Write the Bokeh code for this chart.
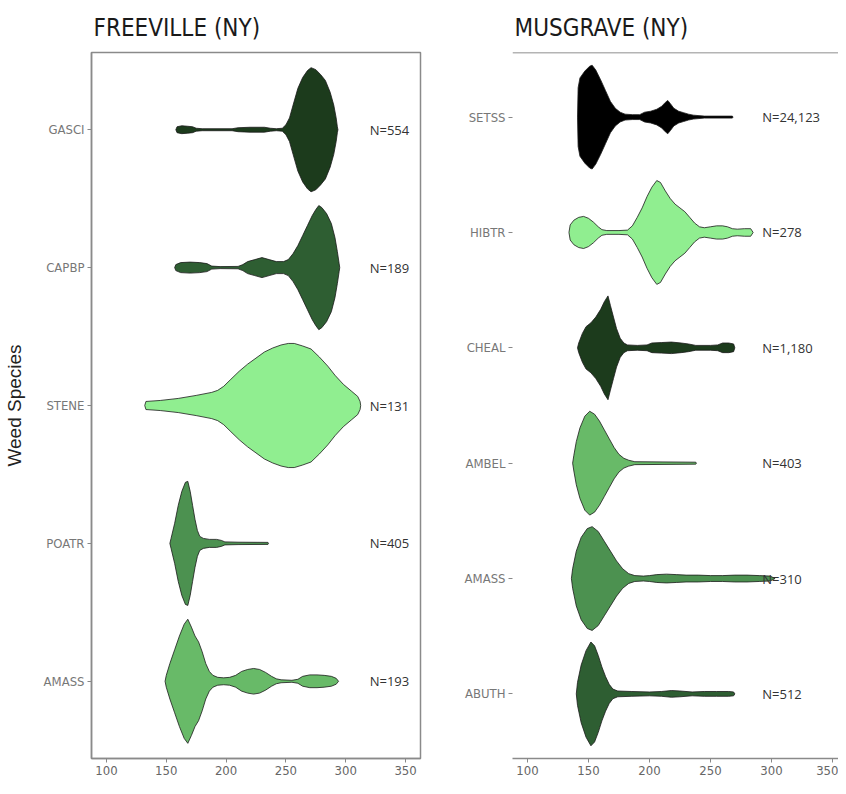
from bokeh.plotting import figure
from bokeh.layouts import row
from bokeh.models import FixedTicker, Range1d, ColumnDataSource, Span
from bokeh.core.properties import value
from bokeh.embed import file_html
from bokeh.resources import INLINE

# ---------------- data ----------------
# Freeville species (top to bottom) and sample sizes
FV_SPECIES = ["GASCI", "CAPBP", "STENE", "POATR", "AMASS"]
FV_N = ["N=554", "N=189", "N=131", "N=405", "N=193"]
FV_COLORS = ["#1c3b1c", "#2e5e32", "#90ee90", "#4c9150", "#68ba68"]

# Musgrave species (top to bottom) and sample sizes
MG_SPECIES = ["SETSS", "HIBTR", "CHEAL", "AMBEL", "AMASS", "ABUTH"]
MG_N = ["N=24,123", "N=278", "N=1,180", "N=403", "N=310", "N=512"]
MG_COLORS = ["#000000", "#90ee90", "#1c3b1c", "#68ba68", "#4c9150", "#2e5e32"]

X_TICKS = [100, 150, 200, 250, 300, 350]

# violin profiles: (day value, relative density height)
GASCI = [(158, 0), (159, 3), (163, 4), (168, 3.5), (172, 3), (175, 1.5), (180, 1), (205, 1),
         (210, 2), (220, 2.5), (232, 2.5), (237, 1.5), (242, 1), (247, 1.5), (250, 5), (253, 12),
         (256, 25), (260, 42), (264, 53), (268, 60), (271, 63), (275, 61), (279, 56), (283, 50),
         (287, 38), (290, 25), (292, 12), (293, 3), (293.5, 0)]
CAPBP = [(157, 0), (158, 3), (162, 5), (170, 5.5), (178, 5), (184, 4), (188, 1.5), (195, 1),
         (210, 1.2), (214, 3), (218, 6), (224, 8), (230, 10), (236, 8), (242, 6), (248, 6),
         (252, 8), (256, 14), (260, 22), (264, 32), (268, 42), (272, 52), (275, 58), (277.5, 62),
         (280, 60), (284, 54), (288, 44), (291, 30), (293, 16), (294.5, 4), (295, 0)]
STENE = [(132, 0), (133, 4), (145, 5), (160, 7), (175, 10), (188, 13), (193, 15), (198, 19),
         (204, 26), (211, 34), (218, 41), (225, 47), (232, 53), (239, 57), (246, 60), (252, 61.5),
         (257, 61.5), (264, 59), (271, 56), (278, 48), (285, 39), (291, 30), (298, 21), (305, 14),
         (310, 9), (312, 4), (312.5, 0)]
POATR = [(153, 0), (154, 5), (157, 20), (160, 38), (163, 52), (166, 61), (168, 62), (170, 52),
         (172, 38), (174, 24), (176, 13), (178, 7), (181, 5), (186, 4), (192, 4), (196, 3),
         (199, 1.5), (210, 1.2), (235, 1), (235.5, 0)]
AMASS_FV = [(149, 0), (150, 6), (153, 18), (157, 32), (161, 46), (165, 58), (168, 63), (171, 55),
            (174, 46), (177, 40), (180, 30), (183, 18), (186, 10), (189, 6), (193, 4), (198, 3.5),
            (203, 4), (208, 6), (213, 10), (218, 12), (223, 13), (228, 12), (233, 9), (238, 5),
            (242, 2.5), (246, 1.5), (255, 1), (260, 2), (264, 5), (270, 6.5), (276, 6.5), (282, 6),
            (288, 5), (292, 3), (294, 0)]

SETSS = [(141, 0), (141.5, 30), (143, 40), (147, 47), (151, 52), (153, 53), (156, 48), (160, 38),
         (164, 27), (168, 16), (172, 9), (176, 5), (180, 3), (186, 2.5), (192, 2.5), (196, 5),
         (201, 6), (206, 8), (210, 11), (213, 15), (215, 17), (217, 14), (220, 9), (224, 6),
         (228, 4.5), (232, 3), (236, 2), (245, 1), (268, 1), (268.5, 0)]
HIBTR = [(134, 0), (135, 8), (138, 13), (142, 16), (146, 17), (150, 15), (154, 11), (158, 6),
         (161, 3), (165, 2), (175, 2), (182, 2.5), (186, 7), (190, 16), (194, 26), (198, 38),
         (202, 48), (206, 55), (209, 53), (213, 44), (217, 36), (221, 30), (225, 26), (229, 22),
         (233, 16), (237, 10), (241, 6), (245, 5), (250, 6), (255, 7), (260, 7), (264, 6),
         (268, 4), (272, 3.5), (278, 4), (283, 4), (285, 0)]
CHEAL = [(141, 0), (142, 5), (145, 15), (148, 22), (152, 26), (156, 32), (160, 40), (163, 48),
         (166, 54), (168, 44), (170.5, 32), (173, 20), (176, 10), (179, 5), (182, 3), (190, 2.5),
         (198, 3), (202, 5), (210, 5.5), (218, 6), (226, 5), (232, 4), (238, 2.5), (250, 2.5),
         (256, 3), (260, 5), (265, 5), (269, 4), (270, 0)]
AMBEL = [(137, 0), (138, 8), (140, 22), (143, 36), (147, 48), (151, 53), (155, 50), (159, 43),
         (163, 34), (167, 25), (171, 16), (175, 9), (179, 5), (183, 3), (188, 1.5), (238, 1),
         (238.5, 0)]
AMASS_MG = [(136, 0), (137, 10), (140, 28), (144, 42), (149, 51), (153, 53), (158, 48), (163, 38),
            (168, 28), (173, 18), (178, 10), (183, 5), (188, 3), (195, 2.5), (200, 3), (206, 4),
            (214, 4.5), (222, 4), (230, 3.5), (240, 3.5), (250, 3), (260, 3), (270, 3.5),
            (280, 3.5), (290, 3), (299, 2.5), (303, 0)]
ABUTH = [(140, 0), (141, 12), (144, 30), (148, 45), (152, 54), (155, 50), (158, 40), (161, 28),
         (164, 18), (167, 10), (170, 5), (174, 3), (185, 2.5), (200, 2), (210, 2.5), (218, 3.5),
         (225, 3), (235, 2), (245, 2.5), (255, 2.5), (265, 2.5), (269, 2), (270, 0)]

FV_PROFILES = [GASCI, CAPBP, STENE, POATR, AMASS_FV]
MG_PROFILES = [SETSS, HIBTR, CHEAL, AMBEL, AMASS_MG, ABUTH]

VIOLIN_HALF = 0.45
NARROW = "'Liberation Sans Narrow', 'DejaVu Sans Condensed', 'Liberation Sans'"


def violin(p, profile, ypos, color):
    xs = [v for v, _ in profile]
    dmax = max(d for _, d in profile)
    ws = [d / dmax * VIOLIN_HALF for _, d in profile]
    px = xs + xs[::-1]
    py = [ypos + w for w in ws] + [ypos - w for w in ws[::-1]]
    src = ColumnDataSource(dict(x=px, y=py))
    p.patch("x", "y", source=src, fill_color=color, line_color="#1a1a1a", line_width=0.8)


def make_panel(title, species, profiles, colors, ns, n_x, xr, width, border_left,
               border_right, ylabel):
    n = len(species)
    p = figure(width=width, height=778, output_backend="svg", toolbar_location=None,
               x_range=Range1d(*xr), y_range=Range1d(0.44, n + 0.56),
               min_border_left=border_left, min_border_right=border_right,
               min_border_top=52, min_border_bottom=20)
    p.title.text = title
    p.title.text_font = NARROW
    p.title.text_font_size = "24px"
    p.title.text_font_style = "normal"
    p.title.text_color = "#1a1a1a"
    p.title.align = "left"
    p.title.offset = 2
    p.title.standoff = 22
    p.xgrid.visible = False
    p.ygrid.visible = False
    p.background_fill_color = "white"
    p.border_fill_color = "white"

    ypos = [n - i for i in range(n)]
    for prof, y, c in zip(profiles, ypos, colors):
        violin(p, prof, y, c)

    src = ColumnDataSource(dict(x=[n_x] * n, y=ypos, t=ns))
    p.text("x", "y", text="t", source=src, text_font=value("Open Sans"), text_font_size="13px",
           text_color="#333333", text_align="left", text_baseline="middle")

    xa = p.xaxis[0]
    xa.ticker = FixedTicker(ticks=X_TICKS)
    xa.minor_tick_line_color = None
    xa.major_tick_in = 0
    xa.major_tick_out = 4
    xa.major_tick_line_color = "#888888"
    xa.axis_line_color = "#8a8a8a"
    xa.axis_line_width = 1.5
    xa.major_label_text_font = NARROW
    xa.major_label_text_font_size = "13px"
    xa.major_label_text_color = "#666666"
    xa.major_label_standoff = 3

    ya = p.yaxis[0]
    ya.ticker = FixedTicker(ticks=ypos)
    ya.major_label_overrides = {y: s for y, s in zip(ypos, species)}
    ya.minor_tick_line_color = None
    ya.major_tick_in = 0
    ya.major_tick_out = 4
    ya.major_tick_line_color = "#888888"
    ya.major_label_text_font = NARROW
    ya.major_label_text_font_size = "13px"
    ya.major_label_text_color = "#777777"
    ya.major_label_standoff = 3
    if ylabel:
        ya.axis_label = ylabel
        ya.axis_label_text_font = "Liberation Sans"
        ya.axis_label_text_font_size = "19px"
        ya.axis_label_text_font_style = "normal"
        ya.axis_label_text_color = "#222222"
        ya.axis_label_standoff = 16
    return p


left = make_panel("FREEVILLE (NY)", FV_SPECIES, FV_PROFILES, FV_COLORS, FV_N, 320,
                  (87.5, 362.5), 440, 90, 20, "Weed Species")
left.outline_line_color = "#8a8a8a"
left.outline_line_width = 1.5
left.yaxis[0].axis_line_color = "#8a8a8a"
left.yaxis[0].axis_line_width = 1.5

right = make_panel("MUSGRAVE (NY)", MG_SPECIES, MG_PROFILES, MG_COLORS, MG_N, 292.5,
                   (87.7, 355.0), 398, 72, 0, None)
right.outline_line_color = None
right.yaxis[0].axis_line_color = None
right.add_layout(Span(location=len(MG_SPECIES) + 0.56, dimension="width",
                      line_color="#6a6a6a", line_width=1.5))

layout = row(left, right)
open("out.html", "w").write(file_html(layout, INLINE))
